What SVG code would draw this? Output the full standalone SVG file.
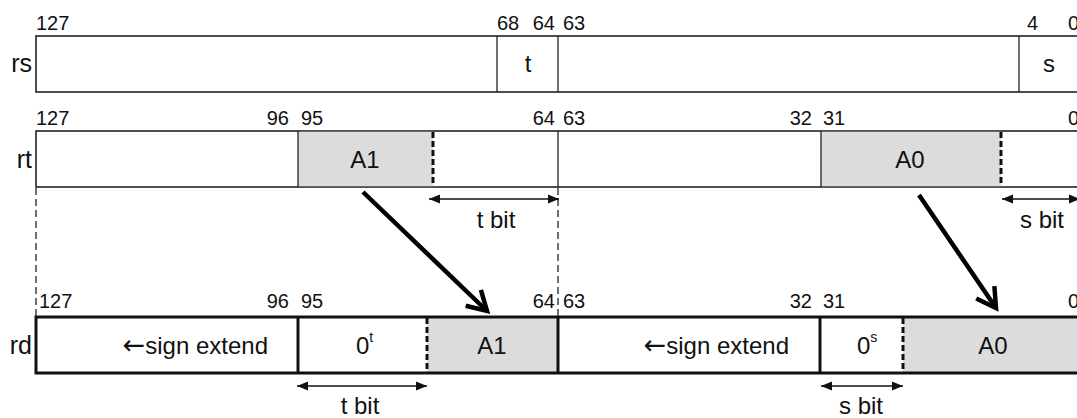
<svg xmlns="http://www.w3.org/2000/svg" width="1077" height="418" viewBox="0 0 1077 418">
<style>
text{font-family:"Liberation Sans",Arial,sans-serif;fill:#111}
.num{font-size:20px}
.lbl{font-size:24px}
.reg{font-size:25px}
.sup{font-size:14px}
.arr{font-family:"DejaVu Sans",sans-serif;font-size:27px;font-weight:normal}
.box{fill:#fff;stroke:#222;stroke-width:1.6}
.boxb{fill:none;stroke:#111;stroke-width:3}
.div{stroke:#222;stroke-width:1.3}
.divb{stroke:#111;stroke-width:3}
.dsh{stroke:#111;stroke-width:3;stroke-dasharray:6 3}
.gray{fill:#dcdcdc}
.guide{stroke:#222;stroke-width:1.3;stroke-dasharray:7 4;fill:none}
.dim{stroke:#111;stroke-width:1.6;marker-start:url(#tri);marker-end:url(#tri)}
.big{stroke:#000;stroke-width:4.5;fill:none;marker-end:url(#vee)}
</style>
<defs>
<marker id="tri" markerUnits="userSpaceOnUse" viewBox="0 0 11 10" refX="11" refY="5" markerWidth="11" markerHeight="10" orient="auto-start-reverse">
<path d="M0,0.5 L11,5 L0,9.5 z" fill="#111"/>
</marker>
<marker id="vee" markerUnits="userSpaceOnUse" viewBox="0 0 26 28" refX="22" refY="14" markerWidth="26" markerHeight="28" orient="auto" overflow="visible">
<path d="M3,3 L22,14 L3,25" fill="none" stroke="#000" stroke-width="4.5" stroke-linejoin="miter" stroke-linecap="butt"/>
</marker>
</defs>

<g id="rs">
<rect class="box" x="36" y="36" width="1050" height="56"/>
<line class="div" x1="497" y1="36" x2="497" y2="92"/>
<line class="div" x1="558" y1="36" x2="558" y2="92"/>
<line class="div" x1="1019" y1="36" x2="1019" y2="92"/>
<text class="reg" x="32" y="72" text-anchor="end">rs</text>
<text class="lbl" x="528" y="72" text-anchor="middle">t</text>
<text class="lbl" x="1049" y="72" text-anchor="middle">s</text>
<text class="num" x="36" y="30">127</text>
<text class="num" x="497" y="30">68</text>
<text class="num" x="555" y="30" text-anchor="end">64</text>
<text class="num" x="563" y="30">63</text>
<text class="num" x="1027" y="30">4</text>
<text class="num" x="1068" y="30">0</text>
</g>

<g id="rt">
<rect class="box" x="36" y="131" width="1050" height="56"/>
<rect class="gray" x="298" y="131.8" width="135" height="54.4"/>
<rect class="gray" x="821" y="131.8" width="180" height="54.4"/>
<line class="div" x1="298" y1="131" x2="298" y2="187"/>
<line class="div" x1="558" y1="131" x2="558" y2="187"/>
<line class="div" x1="821" y1="131" x2="821" y2="187"/>
<line class="dsh" x1="433" y1="132" x2="433" y2="186"/>
<line class="dsh" x1="1001" y1="132" x2="1001" y2="186"/>
<text class="reg" x="32" y="168" text-anchor="end">rt</text>
<text class="lbl" x="365" y="168" text-anchor="middle">A1</text>
<text class="lbl" x="910" y="168" text-anchor="middle">A0</text>
<text class="num" x="36" y="125">127</text>
<text class="num" x="289" y="125" text-anchor="end">96</text>
<text class="num" x="301" y="125">95</text>
<text class="num" x="555" y="125" text-anchor="end">64</text>
<text class="num" x="563" y="125">63</text>
<text class="num" x="812" y="125" text-anchor="end">32</text>
<text class="num" x="823" y="125">31</text>
<text class="num" x="1068" y="125">0</text>
</g>

<g id="rd">
<rect fill="#fff" x="36" y="317" width="1050" height="56"/>
<rect class="gray" x="427" y="317" width="131" height="56"/>
<rect class="gray" x="903" y="317" width="183" height="56"/>
<rect class="boxb" x="36" y="317" width="1050" height="56"/>
<line class="divb" x1="298" y1="317" x2="298" y2="373"/>
<line class="divb" x1="558" y1="317" x2="558" y2="373"/>
<line class="divb" x1="820" y1="317" x2="820" y2="373"/>
<line class="dsh" x1="427" y1="318" x2="427" y2="372"/>
<line class="dsh" x1="903" y1="318" x2="903" y2="372"/>
<text class="reg" x="32" y="354" text-anchor="end">rd</text>
<text class="lbl" x="268" y="354" text-anchor="end"><tspan class="arr">←</tspan>sign extend</text>
<text class="lbl" x="356" y="354">0<tspan class="sup" dy="-12">t</tspan></text>
<text class="lbl" x="492" y="354" text-anchor="middle">A1</text>
<text class="lbl" x="789" y="354" text-anchor="end"><tspan class="arr">←</tspan>sign extend</text>
<text class="lbl" x="857" y="354">0<tspan class="sup" dy="-12">s</tspan></text>
<text class="lbl" x="993" y="354" text-anchor="middle">A0</text>
<text class="num" x="39" y="308">127</text>
<text class="num" x="289" y="308" text-anchor="end">96</text>
<text class="num" x="301" y="308">95</text>
<text class="num" x="555" y="308" text-anchor="end">64</text>
<text class="num" x="563" y="308">63</text>
<text class="num" x="812" y="308" text-anchor="end">32</text>
<text class="num" x="823" y="308">31</text>
<text class="num" x="1068" y="308">0</text>
</g>

<g id="connectors">
<line class="guide" x1="36" y1="188" x2="36" y2="316"/>
<line class="guide" x1="558" y1="188" x2="558" y2="316"/>
<line class="dim" x1="429" y1="199" x2="559" y2="199"/>
<text class="lbl" x="496" y="228" text-anchor="middle">t bit</text>
<line class="dim" x1="1002" y1="199" x2="1080" y2="199"/>
<text class="lbl" x="1042" y="228" text-anchor="middle">s bit</text>
<line class="dim" x1="297" y1="386" x2="427" y2="386"/>
<text class="lbl" x="360" y="414" text-anchor="middle">t bit</text>
<line class="dim" x1="821" y1="386" x2="903" y2="386"/>
<text class="lbl" x="861" y="414" text-anchor="middle">s bit</text>
<line class="big" x1="363" y1="192" x2="487" y2="311"/>
<line class="big" x1="919" y1="195" x2="996" y2="308"/>
</g>
</svg>
